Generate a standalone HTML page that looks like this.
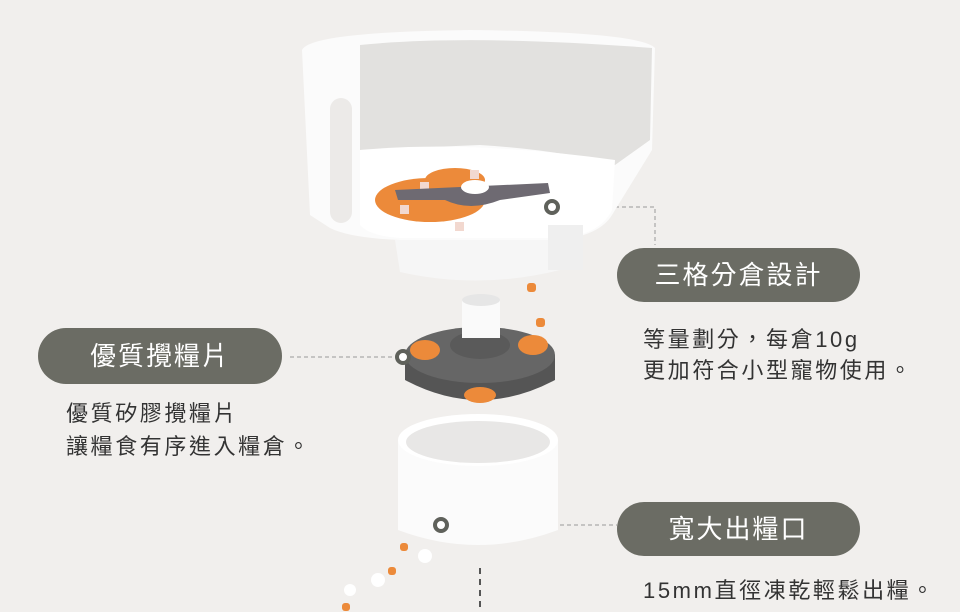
<!DOCTYPE html>
<html><head><meta charset="utf-8"><style>
body{margin:0;width:960px;height:612px;overflow:hidden;background:#f1efed;font-family:"Liberation Sans","Noto Sans CJK TC",sans-serif;position:relative}
.pill{position:absolute;background:#6b6c64;color:#fff;border-radius:28px;text-align:center;font-size:26px;letter-spacing:2px}
.t{position:absolute;color:#333;font-size:22px;line-height:32px;letter-spacing:2.6px;white-space:nowrap}
svg{position:absolute;left:0;top:0}
</style></head><body>
<svg width="960" height="612">
<g stroke="#999" stroke-width="1" stroke-dasharray="4,3" fill="none">
<path d="M552 207 H655 V245"/><path d="M290 357 H403"/><path d="M441 525 H617"/>
</g>
<path d="M480 568 V612" stroke="#555" stroke-width="2" stroke-dasharray="6,5"/>
<path d="M302 50 Q310 32 470 30 Q640 32 655 48 L652 150 L612 215 Q600 235 560 240 L400 240 Q350 238 330 228 L310 215 Z" fill="#fbfbfb"/>
<path d="M360 45 Q470 34 652 48 L650 140 L615 165 Q560 150 480 145 L360 150 Z" fill="#e2e1df"/>
<path d="M360 150 Q470 140 615 160 L612 210 Q600 235 560 238 L400 238 Q370 236 360 225 Z" fill="#fff"/>
<rect x="330" y="98" width="22" height="125" rx="11" fill="#eceae8"/>
<path d="M395 240 L565 240 L560 270 Q480 290 400 272 Z" fill="#f6f6f6"/>
<rect x="548" y="225" width="35" height="45" fill="#efefef"/>
<g fill="#ec8a3a">
<ellipse cx="430" cy="200" rx="55" ry="22"/><ellipse cx="455" cy="180" rx="30" ry="12"/>
</g>
<g fill="#f2d8cf"><rect x="420" y="182" width="9" height="9"/><rect x="400" y="205" width="9" height="9"/><rect x="455" y="222" width="9" height="9"/><rect x="470" y="170" width="9" height="9"/></g>
<path d="M395 190 L548 183 L550 193 L500 200 Q470 212 445 200 L398 200 Z" fill="#6e6a72"/>
<ellipse cx="475" cy="187" rx="14" ry="7" fill="#fff"/>
<circle cx="552" cy="207" r="6" fill="#fff" stroke="#5f615b" stroke-width="4"/>
<path d="M405 355 L405 380 Q480 420 555 380 L555 355 Z" fill="#555"/>
<ellipse cx="480" cy="355" rx="75" ry="28" fill="#666"/>
<ellipse cx="480" cy="345" rx="30" ry="14" fill="#5a5a5a"/>
<rect x="462" y="300" width="38" height="38" fill="#fafafa"/>
<ellipse cx="481" cy="300" rx="19" ry="6" fill="#e6e6e6"/>
<g fill="#ec8a3a"><ellipse cx="425" cy="350" rx="15" ry="10"/><ellipse cx="533" cy="345" rx="15" ry="10"/><ellipse cx="480" cy="395" rx="16" ry="8"/><rect x="527" y="283" width="9" height="9" rx="3"/><rect x="536" y="318" width="9" height="9" rx="3"/><rect x="474" y="424" width="8" height="8" rx="3"/><rect x="451" y="470" width="8" height="8" rx="3"/></g>
<circle cx="403" cy="357" r="6" fill="#fff" stroke="#5f615b" stroke-width="4"/>
<path d="M398 440 L398 530 Q478 560 558 530 L558 440 Z" fill="#fbfbfb"/>
<ellipse cx="478" cy="440" rx="80" ry="26" fill="#fff"/>
<ellipse cx="478" cy="442" rx="72" ry="21" fill="#e8e7e6"/>
<circle cx="441" cy="525" r="6" fill="#fff" stroke="#5f615b" stroke-width="4"/>
<g fill="#ec8a3a"><rect x="400" y="543" width="8" height="8" rx="3"/><rect x="388" y="567" width="8" height="8" rx="3"/><rect x="342" y="603" width="8" height="8" rx="3"/></g>
<g fill="#fff"><circle cx="425" cy="556" r="7"/><circle cx="378" cy="580" r="7"/><circle cx="350" cy="590" r="6"/></g>
</svg>
<div class="pill" style="left:617px;top:248px;width:243px;height:54px;line-height:54px">三格分倉設計</div>
<div class="pill" style="left:38px;top:328px;width:244px;height:56px;line-height:56px">優質攪糧片</div>
<div class="pill" style="left:617px;top:502px;width:243px;height:54px;line-height:54px">寬大出糧口</div>
<div class="t" style="left:643px;top:324px;line-height:31px">等量劃分，每倉10g<br>更加符合小型寵物使用。</div>
<div class="t" style="left:66px;top:397px;line-height:33px">優質矽膠攪糧片<br>讓糧食有序進入糧倉。</div>
<div class="t" style="left:643px;top:575px">15mm直徑凍乾輕鬆出糧。</div>
</body></html>
